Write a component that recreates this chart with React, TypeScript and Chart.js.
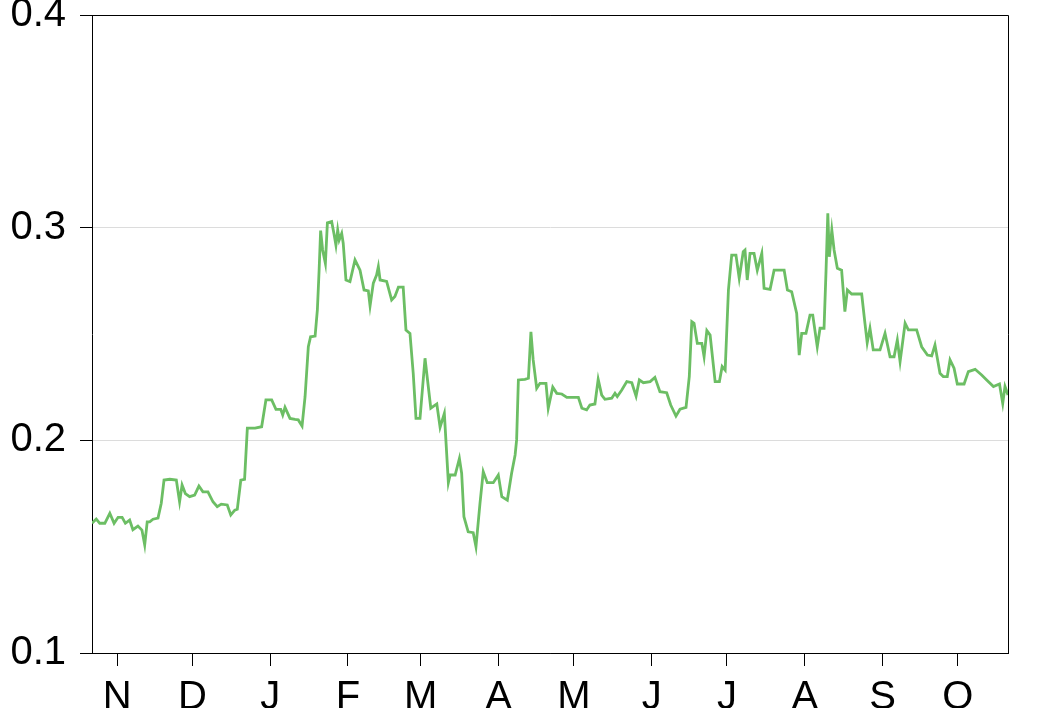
import React, { useEffect, useRef } from "react";
import { Chart, registerables } from "chart.js";

Chart.register(...registerables);

// Day index (0 = Oct 22) and value of each reading
const days: number[] = [
  0, 1.7, 3.1, 5.1, 7.1, 8.8, 10.4, 12.0, 13.3, 15.0, 16.3, 18.3, 19.9, 21.0, 22.0, 23.0, 24.3, 26.3, 27.6, 28.7,
  31.0, 33.6, 34.9, 35.9, 37.2, 38.9, 40.9, 42.6, 44.2, 46.2, 48.2, 49.9, 51.5, 53.9, 55.3, 56.9, 57.9, 59.3, 60.8, 61.9,
  65.0, 67.6, 69.3, 71.6, 73.3, 75.2, 76.0, 76.9, 78.9, 80.9, 82.2, 83.7, 84.9, 86.2, 87.1, 88.9, 89.8, 90.5, 91.1, 91.9,
  93.0, 93.8, 95.5, 96.4, 97.2, 97.9, 98.5, 99.5, 100.1, 101.2, 102.8, 104.8, 106.8, 108.4, 110.1, 110.8, 112.1, 113.4, 114.1, 114.8,
  117.4, 119.4, 120.7, 122.1, 124.0, 125.1, 126.7, 128.0, 129.1, 130.7, 132.7, 135.0, 137.4, 138.7, 140.4, 142.0, 142.7, 144.7, 146.4, 147.3,
  148.2, 149.9, 151.9, 153.0, 154.6, 155.9, 157.5, 159.9, 161.9, 163.3, 165.5, 167.2, 168.6, 169.2, 169.9, 172.5, 173.9, 174.9, 175.8, 177.2,
  178.5, 180.9, 181.8, 183.6, 185.2, 187.2, 189.2, 193.8, 195.2, 197.1, 198.4, 200.4, 201.7, 203.1, 204.4, 207.1, 208.4, 209.3, 211.1, 213.1,
  215.1, 216.8, 218.1, 219.7, 222.4, 224.3, 226.3, 229.0, 230.6, 232.7, 234.3, 236.7, 238.0, 239.0, 239.9, 241.2, 243.0, 243.9, 245.0, 246.3,
  248.3, 250.0, 251.1, 252.3, 253.6, 254.9, 256.6, 257.9, 259.5, 260.2, 261.1, 262.2, 263.8, 265.1, 266.9, 267.8, 270.2, 271.8, 275.8, 277.1,
  278.8, 280.8, 281.8, 282.8, 284.5, 286.1, 287.2, 289.0, 290.1, 291.7, 292.5, 293.2, 293.8, 294.8, 295.7, 297.0, 298.7, 300.0, 301.0, 302.7,
  306.7, 308.0, 308.9, 310.0, 311.3, 314.0, 316.0, 318.0, 319.6, 320.9, 322.0, 324.0, 325.3, 328.6, 330.6, 332.9, 334.6, 335.9, 337.9, 339.2,
  340.8, 341.9, 343.5, 344.8, 347.5, 349.2, 351.9, 354.5, 356.5, 359.2, 361.6, 362.9, 363.8, 365.0,
];

const values: number[] = [
  0.161, 0.163, 0.161, 0.161, 0.1657, 0.161, 0.1638, 0.1638, 0.161, 0.1625, 0.158, 0.1597, 0.1578, 0.1508, 0.1617, 0.1617, 0.1629, 0.1634, 0.1704, 0.1813,
  0.1817, 0.1813, 0.1711, 0.179, 0.175, 0.1735, 0.1743, 0.1785, 0.1758, 0.1758, 0.1711, 0.1688, 0.17, 0.1696, 0.1649, 0.1672, 0.1676, 0.1813, 0.1817, 0.2057,
  0.2057, 0.2064, 0.219, 0.219, 0.2146, 0.2146, 0.2119, 0.2155, 0.2103, 0.2098, 0.2096, 0.2067, 0.2205, 0.244, 0.2487, 0.249, 0.2613, 0.28, 0.2986, 0.2895,
  0.2832, 0.3023, 0.3029, 0.2973, 0.2918, 0.2989, 0.2942, 0.2973, 0.2927, 0.2754, 0.2746, 0.2848, 0.28, 0.2707, 0.2703, 0.2632, 0.2739, 0.2777, 0.2817, 0.2754,
  0.2747, 0.266, 0.2676, 0.272, 0.272, 0.2519, 0.2503, 0.2315, 0.2103, 0.2103, 0.2386, 0.2151, 0.2171, 0.2061, 0.2127, 0.1801, 0.1837, 0.1837, 0.1915, 0.1845,
  0.1641, 0.157, 0.1566, 0.15, 0.1704, 0.1853, 0.1801, 0.1801, 0.1837, 0.1735, 0.1719, 0.1845, 0.1931, 0.2002, 0.2284, 0.2287, 0.2292, 0.251, 0.2378, 0.2245,
  0.2268, 0.2268, 0.2151, 0.225, 0.2221, 0.2218, 0.2202, 0.2202, 0.2151, 0.2143, 0.2166, 0.2171, 0.2287, 0.2213, 0.2193, 0.2198, 0.2221, 0.2206, 0.2237, 0.2276,
  0.2271, 0.2208, 0.2284, 0.2271, 0.2276, 0.2296, 0.2229, 0.2224, 0.2166, 0.2114, 0.2146, 0.2155, 0.2299, 0.2558, 0.255, 0.2456, 0.2456, 0.2393, 0.2516, 0.2495,
  0.2276, 0.2276, 0.2347, 0.233, 0.2707, 0.2871, 0.2871, 0.2762, 0.2887, 0.2895, 0.2754, 0.2879, 0.2879, 0.28, 0.2879, 0.2715, 0.271, 0.28, 0.28, 0.2707,
  0.2699, 0.2597, 0.2401, 0.2503, 0.2503, 0.2589, 0.2589, 0.244, 0.2527, 0.2527, 0.28, 0.3067, 0.2863, 0.2989, 0.2895, 0.2809, 0.28, 0.2605, 0.2707, 0.2688,
  0.2688, 0.255, 0.2459, 0.2527, 0.2425, 0.2425, 0.2503, 0.2393, 0.2393, 0.2472, 0.237, 0.255, 0.2519, 0.2519, 0.244, 0.2401, 0.2397, 0.2448, 0.2315, 0.23,
  0.23, 0.2378, 0.2339, 0.2265, 0.2265, 0.2323, 0.2334, 0.2307, 0.2284, 0.2253, 0.2265, 0.2174, 0.2253, 0.2213,
];

// Month ticks (day index of the first of each month)
const monthTickDays: number[] = [10, 40, 71, 102, 131, 162, 192, 223, 253, 284, 315, 345];
const monthLabels: string[] = ["N", "D", "J", "F", "M", "A", "M", "J", "J", "A", "S", "O"];

const yTicks: number[] = [0.1, 0.2, 0.3, 0.4];

const frame = {
  id: "frame",
  afterDraw(chart: any) {
    const { ctx, chartArea } = chart;
    ctx.save();
    ctx.strokeStyle = "#000";
    ctx.lineWidth = 1;
    ctx.beginPath();
    ctx.moveTo(chartArea.left, chartArea.top + 0.5);
    ctx.lineTo(chartArea.right + 0.5, chartArea.top + 0.5);
    ctx.lineTo(chartArea.right + 0.5, chartArea.bottom);
    ctx.stroke();
    ctx.restore();
  },
};

export default function App() {
  const ref = useRef<HTMLCanvasElement>(null);
  useEffect(() => {
    if (!ref.current) return;
    const font = { family: "'Liberation Sans', Arial, sans-serif", size: 40 };
    const chart = new Chart(ref.current, {
      type: "line",
      data: {
        datasets: [
          {
            data: days.map((d, i) => ({ x: d, y: values[i] })),
            borderColor: "rgb(108,190,100)",
            borderWidth: 2.8,
            pointRadius: 0,
            tension: 0,
            fill: false,
          },
        ],
      },
      options: {
        animation: false,
        responsive: false,
        events: [],
        layout: { padding: { left: 0, top: 15, right: 32, bottom: 0 } },
        plugins: { legend: { display: false }, tooltip: { enabled: false } },
        scales: {
          x: {
            type: "linear",
            min: 0,
            max: 365,
            afterBuildTicks: (s: any) => {
              s.ticks = monthTickDays.map((v) => ({ value: v }));
            },
            afterFit: (s: any) => {
              s.height = 55;
              s.paddingLeft = 0;
              s.paddingRight = 0;
            },
            ticks: {
              autoSkip: false,
              maxRotation: 0,
              padding: 8,
              color: "#000",
              font,
              callback: (v: any) => {
                const i = monthTickDays.indexOf(Number(v));
                return i >= 0 ? monthLabels[i] : "";
              },
            },
            grid: { drawOnChartArea: false, tickLength: 13, color: "#000", tickColor: "#000" },
            border: { display: true, color: "#000", width: 1 },
          },
          y: {
            min: 0.1,
            max: 0.4,
            afterBuildTicks: (s: any) => {
              s.ticks = yTicks.map((v) => ({ value: v }));
            },
            afterFit: (s: any) => {
              s.width = 92;
              s.paddingTop = 0;
              s.paddingBottom = 0;
            },
            ticks: {
              padding: 14,
              color: "#000",
              font,
              callback: (v: any) => Number(v).toFixed(1),
            },
            grid: {
              tickLength: 12,
              color: (c: any) => {
                const v = c.tick ? c.tick.value : 0;
                return Math.abs(v - 0.1) < 1e-6 || Math.abs(v - 0.4) < 1e-6 ? "#000" : "#dcdcdc";
              },
              tickColor: "#000",
            },
            border: { display: true, color: "#000", width: 1 },
          },
        },
      },
      plugins: [frame],
    } as any);
    return () => chart.destroy();
  }, []);
  return (
    <div style={{ position: "fixed", left: 0, top: 0, width: 1040, height: 708, background: "#fff" }}>
      <canvas ref={ref} width={1040} height={708} style={{ width: 1040, height: 708 }} />
    </div>
  );
}
